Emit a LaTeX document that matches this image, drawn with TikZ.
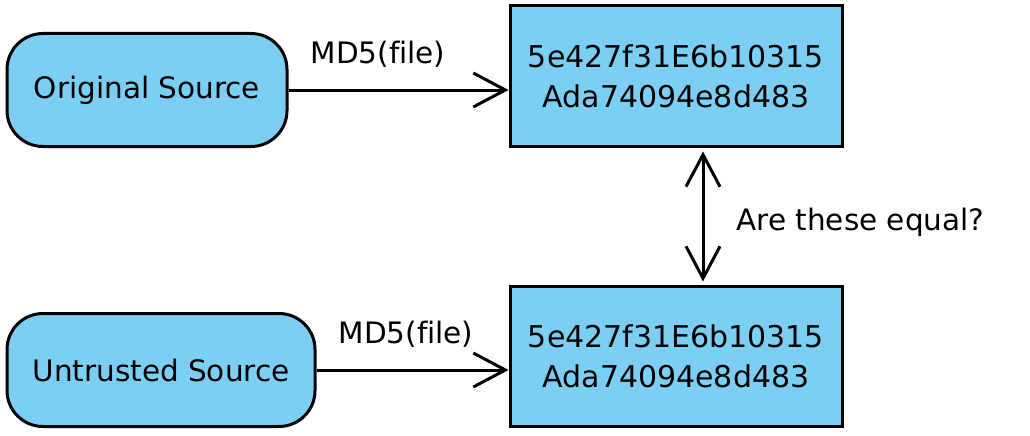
\documentclass[tikz,border=0pt]{standalone}
\usepackage{fontspec}
\setmainfont{DejaVu Sans}
\usetikzlibrary{arrows.meta}
\definecolor{boxblue}{RGB}{122,207,243}
\begin{document}
\begin{tikzpicture}[x=1pt,y=-1pt,
  every node/.style={font=\fontsize{29.5}{40}\selectfont},
  srcbox/.style={draw=black,line width=3pt,fill=boxblue,rounded corners=36pt,inner sep=0pt},
  hashbox/.style={draw=black,line width=3pt,fill=boxblue,inner sep=0pt,minimum width=332pt,minimum height=140pt,align=center,font=\fontsize{30}{40}\selectfont},
  arr/.style={line width=3pt,-{Straight Barb[length=32pt,width=34pt,line width=3pt]}},
  darr/.style={line width=3pt,{Straight Barb[length=32pt,width=34pt,line width=3pt]}-{Straight Barb[length=32pt,width=34pt,line width=3pt]}}]
\useasboundingbox (0,0) rectangle (1030,436);
\node[srcbox,minimum width=280pt,minimum height=113pt] (orig) at (147,90) {Original Source};
\node[srcbox,minimum width=308pt,minimum height=113pt] (untr) at (161,370) {Untrusted Source};
\node[hashbox] (hash1) at (676,76) {5e427f31E6b10315\\Ada74094e8d483};
\node[hashbox] (hash2) at (676,356) {5e427f31E6b10315\\Ada74094e8d483};
\node (lbl1) at (378,54) {MD5(f\kern0pt ile)};
\node (lbl2) at (406,334) {MD5(f\kern0pt ile)};
\node[anchor=west] (q) at (733,222) {Are these equal?};
\coordinate (va) at (703,0);
\draw[arr] (orig.east) -- (orig.east -| hash1.west);
\draw[arr] (untr.east) -- (untr.east -| hash2.west);
\draw[darr] ([yshift=-4pt]va |- hash1.south) -- ([yshift=3pt]va |- hash2.north);
\end{tikzpicture}
\end{document}
